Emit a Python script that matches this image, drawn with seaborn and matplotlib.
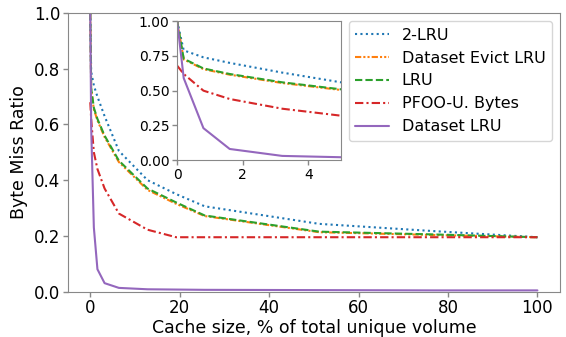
import seaborn as sns
import matplotlib.pyplot as plt
import pandas as pd

# cache size (% of total unique volume)
cache_pct = [0, 0.2, 0.8, 1.6, 3.2, 6.4, 12.8, 19.2, 25.6, 51.2, 76.8, 100]

two_lru = [1.0, 0.79, 0.74, 0.70, 0.63, 0.505, 0.40, 0.35, 0.306, 0.243, 0.217, 0.195]
evict_lru = [1.0, 0.725, 0.655, 0.615, 0.555, 0.465, 0.365, 0.315, 0.271, 0.213, 0.203, 0.195]
lru = [1.0, 0.73, 0.66, 0.62, 0.56, 0.47, 0.37, 0.32, 0.273, 0.215, 0.205, 0.195]
pfoo = [0.68, 0.62, 0.50, 0.44, 0.37, 0.28, 0.222, 0.195, 0.195, 0.195, 0.195, 0.195]
dataset_lru = [1.0, 0.59, 0.23, 0.08, 0.03, 0.013, 0.008, 0.007, 0.006, 0.005, 0.004, 0.004]

names = ['2-LRU', 'Dataset Evict LRU', 'LRU', 'PFOO-U. Bytes', 'Dataset LRU']
series = [two_lru, evict_lru, lru, pfoo, dataset_lru]
colors = sns.color_palette('tab10')[:5]
dashes = [(1, 1.6), (3, 1, 1, 1, 1, 1), (3.5, 1.5), (4, 1.5, 1, 1.5), ()]

df = pd.DataFrame({'x': cache_pct})
for n, s in zip(names, series):
    df[n] = s

sns.set_style('white')
plt.rcParams['text.color'] = 'black'
plt.rcParams['axes.labelcolor'] = 'black'
plt.rcParams['xtick.color'] = 'black'
plt.rcParams['ytick.color'] = 'black'

fig = plt.figure(figsize=(5.66, 3.37), dpi=100)
ax = fig.add_axes([0.12, 0.135, 0.869, 0.826])
ins = fig.add_axes([0.313, 0.525, 0.29, 0.412])


def draw(a, lab):
    for n, c, d in zip(names, colors, dashes):
        sns.lineplot(data=df, x='x', y=n, ax=a, color=c, lw=1.5,
                     label=n if lab else None, legend=False)
        if d:
            a.lines[-1].set_dashes(d)
    for sp in a.spines.values():
        sp.set_color('#888888')
    a.tick_params(color='#888888', length=3.5, width=1, direction='out',
                  bottom=True, left=True, pad=2)


draw(ax, True)
draw(ins, False)

ax.set_xlim(-5, 105)
ax.set_ylim(0, 1.0)
ax.set_xlabel('Cache size, % of total unique volume', fontsize=12.5, labelpad=1)
ax.set_ylabel('Byte Miss Ratio', fontsize=12.5, labelpad=4)
ax.tick_params(labelsize=12)
ax.set_xticks([0, 20, 40, 60, 80, 100])
ax.set_yticks([0, 0.2, 0.4, 0.6, 0.8, 1.0])
ax.legend(loc='upper right', fontsize=11.5, handlelength=2.1)

ins.set_xlim(0, 5)
ins.set_ylim(0, 1.0)
ins.set_xlabel('')
ins.set_ylabel('')
ins.set_xticks([0, 2, 4])
ins.set_yticks([0, 0.25, 0.5, 0.75, 1.0])
ins.set_yticklabels(['0.00', '0.25', '0.50', '0.75', '1.00'])
ins.tick_params(labelsize=10)

fig.savefig('out.png', dpi=100)
